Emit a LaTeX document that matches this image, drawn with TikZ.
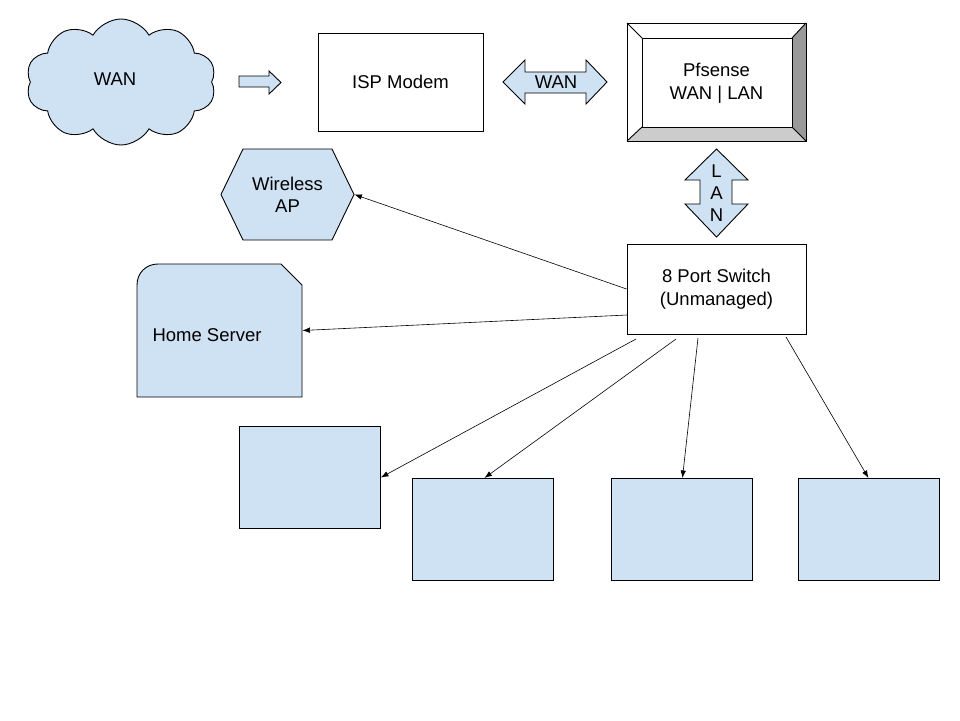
\documentclass[tikz,border=0pt]{standalone}
\usepackage{fontspec}
\setmainfont{Liberation Sans}
\usetikzlibrary{shapes.symbols,arrows.meta,calc}
\definecolor{lblue}{HTML}{CFE2F3}
\definecolor{bevdark}{HTML}{999999}
\definecolor{bevlight}{HTML}{CCCCCC}
\begin{document}
\begin{tikzpicture}[x=1pt,y=-1pt,
  font=\fontsize{18.5}{22.5}\selectfont, line width=0.9pt,
  bluebox/.style={draw, fill=lblue, minimum width=141pt, minimum height=102pt, inner sep=0pt, anchor=north west},
  whitebox/.style={draw, fill=white, inner sep=0pt, align=center},
  ghost/.style={inner sep=0pt, align=center},
  conn/.style={line width=0.6pt, -{Latex[length=7.5pt,width=5.5pt]}},
  shapefill/.style={draw, fill=lblue, line join=miter}
]
\useasboundingbox (0,0) rectangle (960,720);

% cloud
\node[cloud, draw, fill=lblue, cloud puffs=10, cloud puff arc=120, aspect=1.6,
      minimum width=190pt, minimum height=126pt, inner sep=0pt] (wan) at (121,82) {};
\node[ghost] (wantext) at (115,79) {WAN};

% small arrow
\draw[shapefill] (239,76) -- (269,76) -- (269,71) -- (281,82.5) -- (269,94) -- (269,87) -- (239,87) -- cycle;

% ISP modem
\node[whitebox, minimum width=165pt, minimum height=98pt] (isp) at (400.5,82) {ISP Modem};

% WAN double arrow
\draw[shapefill] (503,82) -- (525,60) -- (525,72) -- (586,72) -- (586,60) -- (607,82)
   -- (586,104) -- (586,93) -- (525,93) -- (525,104) -- cycle;
\node[ghost] (wanlink) at (556,82) {WAN};

% Pfsense bevel box
\node[draw, minimum width=179pt, minimum height=118pt, inner sep=0pt] (pf) at (716.5,82) {};
\fill[bevdark] (806,23) -- (806,141) -- (792,127) -- (792,38) -- cycle;
\fill[bevlight] (627,141) -- (806,141) -- (792,127) -- (642,127) -- cycle;
\draw (627,23) rectangle (806,141);
\draw (642,38) rectangle (792,127);
\draw (627,23) -- (642,38) (806,23) -- (792,38) (627,141) -- (642,127) (806,141) -- (792,127);
\node[ghost] (pftext) at (716.5,83.5) {Pfsense\\WAN | LAN};

% LAN vertical double arrow
\draw[shapefill] (716.5,149) -- (748,180) -- (732,180) -- (732,204) -- (748,204) -- (716.5,237)
   -- (685,204) -- (700,204) -- (700,180) -- (685,180) -- cycle;
\node[ghost] (lanL) at (716.5,171) {L};
\node[ghost] (lanA) at (716.5,193) {A};
\node[ghost] (lanN) at (716.5,215) {N};

% switch
\node[whitebox, minimum width=179pt, minimum height=90pt] (sw) at (716.5,289) {8 Port Switch\\(Unmanaged)};

% wireless AP hexagon
\node[ghost, minimum width=133pt, minimum height=91pt] (ap) at (287.5,194.5) {};
\draw[shapefill] (221,194.5) -- (243,149) -- (332,149) -- (354,194.5) -- (332,240) -- (243,240) -- cycle;
\node[ghost] (aptext) at (287.5,195) {Wireless\\AP};

% home server
\node[ghost, minimum width=165pt, minimum height=133pt] (hs) at (219.5,330.5) {};
\draw[shapefill] (137,397) -- (137,285) .. controls (137,273) and (146,264) .. (158,264)
   -- (281,264) -- (302,285) -- (302,397) -- cycle;
\node[ghost] (hstext) at (207,335) {Home Server};

% bottom boxes
\node[bluebox] (b1) at (239,426) {};
\node[bluebox] (b2) at (412,478) {};
\node[bluebox] (b3) at (611,478) {};
\node[bluebox] (b4) at (798,478) {};

% connectors
\coordinate (s0) at (627,315);
\coordinate (s1) at (636,339);
\coordinate (s2) at (676,339);
\coordinate (s3) at (698,338);
\coordinate (s4) at (786,337);
\draw[conn] (sw.west) -- (ap.east);
\draw[conn] (s0) -- (hs.east);
\draw[conn] (s1) -- (b1.east);
\draw[conn] (s2) -- ($(b2.north)+(1.5,0)$);
\draw[conn] (s3) -- ($(b3.north)+(0.5,0)$);
\draw[conn] (s4) -- ($(b4.north)+(-0.5,0)$);
\end{tikzpicture}
\end{document}
